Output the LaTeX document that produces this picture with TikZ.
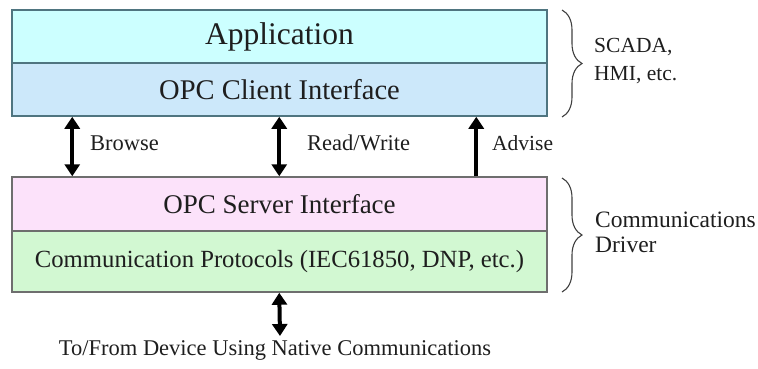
\documentclass[tikz,border=0pt]{standalone}
\usepackage{fontspec}
\setmainfont{Liberation Serif}
\usetikzlibrary{arrows.meta,decorations.pathreplacing}
\definecolor{appfill}{HTML}{CCFFFF}
\definecolor{clifill}{HTML}{CCE8FA}
\definecolor{srvfill}{HTML}{FCE2FA}
\definecolor{protfill}{HTML}{D2F8D2}
\definecolor{topedge}{HTML}{4F7580}
\definecolor{botedge}{HTML}{6E6E6E}
\definecolor{ink}{HTML}{1E1E1E}
\tikzset{
  layer/.style={rectangle, minimum width=535pt, inner sep=0pt, line width=1.5pt, text=ink},
  fs/.style={font=\fontsize{#1}{#1}\selectfont},
  flow/.style={line width=4pt, {Triangle[length=12pt,width=15pt]}-{Triangle[length=12pt,width=15pt]}},
  upflow/.style={line width=4pt, -{Triangle[length=12pt,width=15pt]}},
  lbl/.style={anchor=base west, inner sep=0pt, text=ink},
  curly/.style={decorate, decoration={brace, amplitude=20pt}, line width=1.1pt, draw=ink!85}
}
\begin{document}
\begin{tikzpicture}[x=1pt, y=-1pt]
\useasboundingbox (0,0) rectangle (758,368);

% client side stack
\node[layer, draw=topedge, fill=appfill, minimum height=53pt, fs=31.5] (app) at (279.5,36.5) {Application};
\node[layer, draw=topedge, fill=clifill, minimum height=53pt, fs=28.5] (cli) at (279.5,89.5) {OPC Client Interface};

% server side stack
\node[layer, draw=botedge, fill=srvfill, minimum height=54pt, fs=27] (srv) at (279.5,204) {OPC Server Interface};
\node[layer, draw=botedge, fill=protfill, minimum height=61pt, fs=24.7] (prot) at (279.5,261.5) {Communication Protocols (IEC61850, DNP, etc.)};

% interface calls between client and server
\draw[flow] ([xshift=61pt]cli.south west) -- ([xshift=61pt]srv.north west);
\draw[flow] ([xshift=268pt]cli.south west) -- ([xshift=268pt]srv.north west);
\draw[upflow] ([xshift=465pt]srv.north west) -- ([xshift=465pt]cli.south west);

\node[lbl, fs=22.5] (browse) at (90,150) {Browse};
\node[lbl, fs=22.5] (rw) at (307,150) {Read/Write};
\node[lbl, fs=21.5] (advise) at (492,150) {Advise};

% device link
\coordinate (dev) at (280,336);
\draw[flow] ([xshift=268pt]prot.south west) -- (dev);
\node[anchor=base, inner sep=0pt, text=ink, fs=22.5] (native) at (275,355) {To/From Device Using Native Communications};

% grouping braces
\coordinate (b1top) at (562,10);
\coordinate (b1bot) at (562,117);
\draw[curly] (b1top) -- (b1bot);
\node[lbl, fs=21.5, align=left] (scada) at (594,80) {SCADA,\\[6.5pt]HMI, etc.};

\coordinate (b2top) at (562,178);
\coordinate (b2bot) at (562,292);
\draw[curly] (b2top) -- (b2bot);
\node[lbl, fs=23.5, align=left] (driver) at (595,252) {Communications\\[1.5pt]Driver};
\end{tikzpicture}
\end{document}
